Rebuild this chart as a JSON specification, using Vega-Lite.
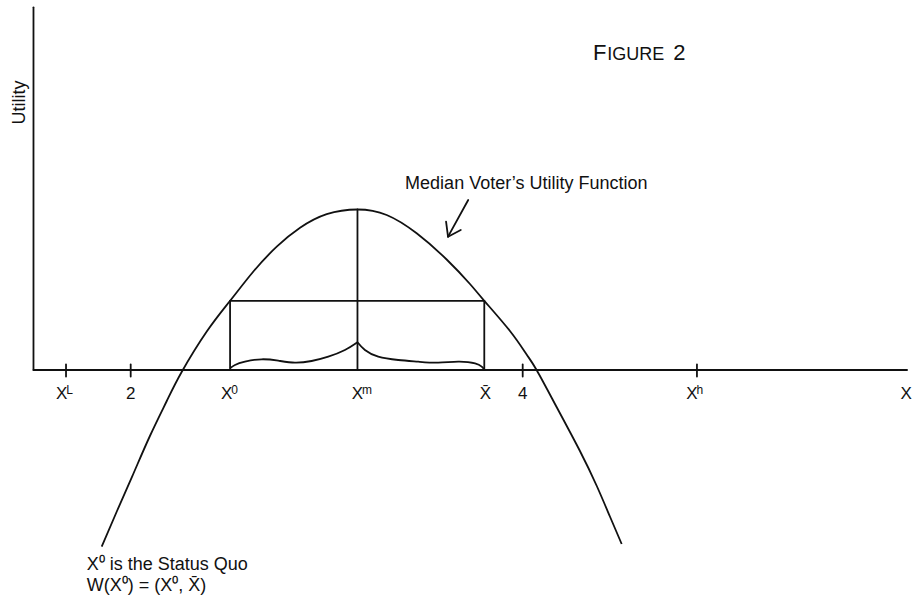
{
  "$schema": "https://vega.github.io/schema/vega-lite/v6.json",
  "width": 916,
  "height": 605,
  "autosize": {"type": "fit", "contains": "padding"},
  "padding": 0,
  "background": "white",
  "config": {"view": {"stroke": null}, "text": {"font": "Liberation Sans", "color": "#111"}},
  "datasets": {
    "segs": [
      {"x1": 1.504, "y1": 0, "x2": 5.961, "y2": 0},
      {"x1": 1.504, "y1": 0, "x2": 1.504, "y2": 9.068},
      {"x1": 1.670, "y1": 0.1375, "x2": 1.670, "y2": -0.1625},
      {"x1": 2.0, "y1": 0.1375, "x2": 2.0, "y2": -0.1625},
      {"x1": 4.0, "y1": 0.1375, "x2": 4.0, "y2": -0.1625},
      {"x1": 4.889, "y1": 0.1375, "x2": 4.889, "y2": -0.1625},
      {"x1": 2.507, "y1": 1.73, "x2": 3.804, "y2": 1.73},
      {"x1": 2.507, "y1": 0, "x2": 2.507, "y2": 1.73},
      {"x1": 3.804, "y1": 0, "x2": 3.804, "y2": 1.73},
      {"x1": 3.157, "y1": 0, "x2": 3.157, "y2": 4.0125},
      {"x1": 3.722, "y1": 4.25, "x2": 3.619, "y2": 3.333},
      {"x1": 3.609, "y1": 3.708, "x2": 3.619, "y2": 3.333},
      {"x1": 3.684, "y1": 3.5, "x2": 3.619, "y2": 3.333}
    ],
    "curves": [
      {"id": "u", "x": 1.852, "y": -4.418},
      {"id": "u", "x": 1.929, "y": -3.5375},
      {"id": "u", "x": 2.013, "y": -2.6},
      {"id": "u", "x": 2.098, "y": -1.65},
      {"id": "u", "x": 2.184, "y": -0.775},
      {"id": "u", "x": 2.260, "y": -0.05},
      {"id": "u", "x": 2.388, "y": 0.9625},
      {"id": "u", "x": 2.507, "y": 1.73},
      {"id": "u", "x": 2.626, "y": 2.4625},
      {"id": "u", "x": 2.745, "y": 3.0825},
      {"id": "u", "x": 2.864, "y": 3.555},
      {"id": "u", "x": 3.0, "y": 3.895},
      {"id": "u", "x": 3.157, "y": 4.0125},
      {"id": "u", "x": 3.306, "y": 3.875},
      {"id": "u", "x": 3.459, "y": 3.4175},
      {"id": "u", "x": 3.612, "y": 2.7625},
      {"id": "u", "x": 3.731, "y": 2.15},
      {"id": "u", "x": 3.804, "y": 1.73},
      {"id": "u", "x": 3.935, "y": 0.975},
      {"id": "u", "x": 4.020, "y": 0.3875},
      {"id": "u", "x": 4.071, "y": 0},
      {"id": "u", "x": 4.173, "y": -0.925},
      {"id": "u", "x": 4.292, "y": -2.025},
      {"id": "u", "x": 4.378, "y": -2.9},
      {"id": "u", "x": 4.445, "y": -3.6625},
      {"id": "u", "x": 4.505, "y": -4.35},
      {"id": "wl", "x": 2.507, "y": 0.043},
      {"id": "wl", "x": 2.532, "y": 0.125},
      {"id": "wl", "x": 2.583, "y": 0.208},
      {"id": "wl", "x": 2.668, "y": 0.268},
      {"id": "wl", "x": 2.753, "y": 0.233},
      {"id": "wl", "x": 2.838, "y": 0.183},
      {"id": "wl", "x": 2.923, "y": 0.225},
      {"id": "wl", "x": 3.008, "y": 0.333},
      {"id": "wl", "x": 3.093, "y": 0.5},
      {"id": "wl", "x": 3.157, "y": 0.693},
      {"id": "wr", "x": 3.157, "y": 0.693},
      {"id": "wr", "x": 3.195, "y": 0.5},
      {"id": "wr", "x": 3.263, "y": 0.333},
      {"id": "wr", "x": 3.365, "y": 0.25},
      {"id": "wr", "x": 3.467, "y": 0.208},
      {"id": "wr", "x": 3.569, "y": 0.183},
      {"id": "wr", "x": 3.671, "y": 0.208},
      {"id": "wr", "x": 3.757, "y": 0.168},
      {"id": "wr", "x": 3.791, "y": 0.083},
      {"id": "wr", "x": 3.804, "y": 0.018}
    ],
    "labels": [
      {"x": 1.648, "y": -0.7125, "main": "X", "sup": "L"},
      {"x": 2.0, "y": -0.7125, "main": "2", "sup": ""},
      {"x": 2.490, "y": -0.7125, "main": "X", "sup": "0"},
      {"x": 3.157, "y": -0.7125, "main": "X", "sup": "m"},
      {"x": 3.810, "y": -0.7125, "main": "X̄", "sup": ""},
      {"x": 4.0, "y": -0.7125, "main": "4", "sup": ""},
      {"x": 4.864, "y": -0.7125, "main": "X", "sup": "h"},
      {"x": 5.956, "y": -0.7125, "main": "X", "sup": ""}
    ],
    "notes": [
      {"kind": "big", "x": 4.359, "y": 7.75, "text": "F"},
      {"kind": "big", "x": 4.768, "y": 7.75, "text": "2"},
      {"kind": "small", "x": 4.432, "y": 7.75, "text": "IGURE"},
      {"kind": "small", "x": 3.400, "y": 4.525, "text": "Median Voter’s Utility Function"},
      {"kind": "small", "x": 1.776, "y": -5.0, "text": "X⁰ is the Status Quo"},
      {"kind": "small", "x": 1.776, "y": -5.525, "text": "W(X⁰) = (X⁰, X̄)"},
      {"kind": "vert", "x": 1.46, "y": 6.6875, "text": "Utility"}
    ]
  },
  "layer": [
    {
      "data": {"name": "segs"},
      "mark": {"type": "rule", "color": "#111", "strokeWidth": 1.8, "strokeCap": "round"},
      "encoding": {
        "x": {"field": "x1", "type": "quantitative", "scale": {"domain": [1.33316, 6.00663], "nice": false, "zero": false}, "axis": null},
        "y": {"field": "y1", "type": "quantitative", "scale": {"domain": [-5.875, 9.25], "nice": false, "zero": false}, "axis": null},
        "x2": {"field": "x2"},
        "y2": {"field": "y2"}
      }
    },
    {
      "data": {"name": "curves"},
      "mark": {"type": "line", "color": "#111", "strokeWidth": 1.8, "interpolate": "natural"},
      "encoding": {
        "x": {"field": "x", "type": "quantitative", "scale": {"domain": [1.33316, 6.00663], "nice": false, "zero": false}, "axis": null},
        "y": {"field": "y", "type": "quantitative", "scale": {"domain": [-5.875, 9.25], "nice": false, "zero": false}, "axis": null},
        "detail": {"field": "id"}
      }
    },
    {
      "data": {"name": "labels"},
      "mark": {"type": "text", "fontSize": 17, "align": "center", "baseline": "alphabetic"},
      "encoding": {
        "x": {"field": "x", "type": "quantitative", "scale": {"domain": [1.33316, 6.00663], "nice": false, "zero": false}, "axis": null},
        "y": {"field": "y", "type": "quantitative", "scale": {"domain": [-5.875, 9.25], "nice": false, "zero": false}, "axis": null},
        "text": {"field": "main"}
      }
    },
    {
      "data": {"name": "labels"},
      "transform": [{"filter": "datum.sup != ''"}],
      "mark": {"type": "text", "fontSize": 12, "align": "left", "baseline": "alphabetic", "dx": 4.5, "dy": -5},
      "encoding": {
        "x": {"field": "x", "type": "quantitative", "scale": {"domain": [1.33316, 6.00663], "nice": false, "zero": false}, "axis": null},
        "y": {"field": "y", "type": "quantitative", "scale": {"domain": [-5.875, 9.25], "nice": false, "zero": false}, "axis": null},
        "text": {"field": "sup"}
      }
    },
    {
      "data": {"name": "notes"},
      "transform": [{"filter": "datum.kind == 'big'"}],
      "mark": {"type": "text", "fontSize": 22, "align": "left", "baseline": "alphabetic"},
      "encoding": {
        "x": {"field": "x", "type": "quantitative", "scale": {"domain": [1.33316, 6.00663], "nice": false, "zero": false}, "axis": null},
        "y": {"field": "y", "type": "quantitative", "scale": {"domain": [-5.875, 9.25], "nice": false, "zero": false}, "axis": null},
        "text": {"field": "text"}
      }
    },
    {
      "data": {"name": "notes"},
      "transform": [{"filter": "datum.kind == 'small'"}],
      "mark": {"type": "text", "fontSize": 18, "align": "left", "baseline": "alphabetic"},
      "encoding": {
        "x": {"field": "x", "type": "quantitative", "scale": {"domain": [1.33316, 6.00663], "nice": false, "zero": false}, "axis": null},
        "y": {"field": "y", "type": "quantitative", "scale": {"domain": [-5.875, 9.25], "nice": false, "zero": false}, "axis": null},
        "text": {"field": "text"}
      }
    },
    {
      "data": {"name": "notes"},
      "transform": [{"filter": "datum.kind == 'vert'"}],
      "mark": {"type": "text", "fontSize": 18, "align": "center", "baseline": "alphabetic", "angle": 270},
      "encoding": {
        "x": {"field": "x", "type": "quantitative", "scale": {"domain": [1.33316, 6.00663], "nice": false, "zero": false}, "axis": null},
        "y": {"field": "y", "type": "quantitative", "scale": {"domain": [-5.875, 9.25], "nice": false, "zero": false}, "axis": null},
        "text": {"field": "text"}
      }
    }
  ]
}
